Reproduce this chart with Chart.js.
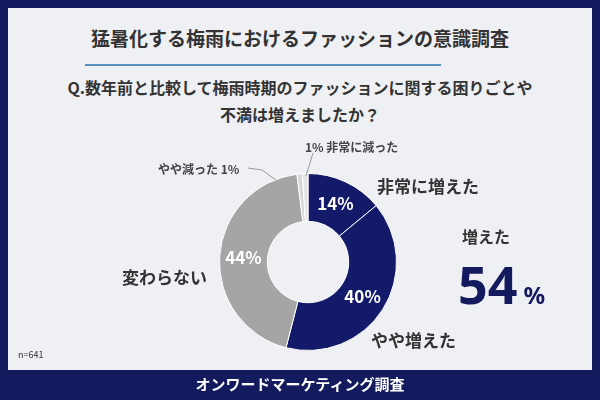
<!DOCTYPE html>
<html><head><meta charset="utf-8">
<script src="https://cdn.jsdelivr.net/npm/chart.js@4"></script>
<style>
body{margin:0;width:600px;height:400px;overflow:hidden;font-family:"Noto Sans CJK JP",sans-serif;font-weight:700;color:#333}
#frame{position:absolute;left:0;top:0;width:600px;height:400px;background:#141a5e}
#panel{position:absolute;left:8px;top:8px;width:584px;height:362px;background:#eff0f4}
.t{position:absolute;white-space:nowrap;line-height:1}
#cw{position:absolute;left:219px;top:173px;width:178px;height:178px}
</style></head><body>
<div id="frame"></div><div id="panel"></div>
<div class="t" style="left:0;width:600px;text-align:center;top:28px;font-size:19px;color:#333">猛暑化する梅雨におけるファッションの意識調査</div>
<div style="position:absolute;left:85px;top:64px;width:356px;height:2px;background:#5b8fc0"></div>
<div class="t" style="left:0;width:600px;text-align:center;top:79px;font-size:16px">Q.数年前と比較して梅雨時期のファッションに関する困りごとや</div>
<div class="t" style="left:0;width:600px;text-align:center;top:106px;font-size:16px">不満は増えましたか？</div>
<div id="cw"><canvas id="c"></canvas></div>
<svg style="position:absolute;left:0;top:0" width="600" height="400"><polyline points="248,168 262,170 276,180" fill="none" stroke="#999" stroke-width="1"/><line x1="313" y1="153" x2="306" y2="176" stroke="#999" stroke-width="1"/></svg>
<div class="t" style="left:305px;top:141px;font-size:12px;color:#444">1% 非常に減った</div>
<div class="t" style="left:158px;top:163px;font-size:12px;color:#444">やや減った 1%</div>
<div class="t" style="left:377px;top:177px;font-size:17px">非常に増えた</div>
<div class="t" style="left:122px;top:268px;font-size:17px">変わらない</div>
<div class="t" style="left:371px;top:331px;font-size:17px">やや増えた</div>
<div class="t" style="left:462px;top:228px;font-size:16px">増えた</div>
<div class="t" style="left:458px;top:262px;font-size:52px;line-height:44px;height:44px;color:#141a5e;font-family:'Noto Sans',sans-serif">54<span style="font-size:24px;margin-left:6px">%</span></div>
<div class="t" style="left:18px;top:350px;font-size:9px;font-weight:400">n=641</div>
<div class="t" style="left:0;width:600px;text-align:center;top:376px;font-size:15px;color:#fff">オンワードマーケティング調査</div>
<script>
const categories=["非常に増えた","やや増えた","変わらない","やや減った","非常に減った"];
const values=[14,40,44,1,1];
const colors=["#141a6a","#141a6a","#a5a5a5","#d8d8d8","#e4e4e4"];
const innerLabels=[true,true,true,false,false];
const pctPlugin={id:"pct",afterDatasetsDraw(ch){const ctx=ch.ctx;const m=ch.getDatasetMeta(0);ctx.save();ctx.fillStyle="#fff";ctx.font="bold 17px 'Noto Sans CJK JP'";ctx.textAlign="center";ctx.textBaseline="middle";
m.data.forEach((a,i)=>{if(!innerLabels[i])return;const p=a.tooltipPosition();ctx.fillText(values[i]+"%",p.x,p.y);});ctx.restore();}};
new Chart(document.getElementById("c"),{type:"doughnut",data:{labels:categories,datasets:[{data:values,backgroundColor:colors,borderColor:"#fff",borderWidth:1}]},
options:{responsive:true,maintainAspectRatio:false,animation:false,cutout:"46%",plugins:{legend:{display:false},tooltip:{enabled:false}}},plugins:[pctPlugin]});
</script></body></html>
